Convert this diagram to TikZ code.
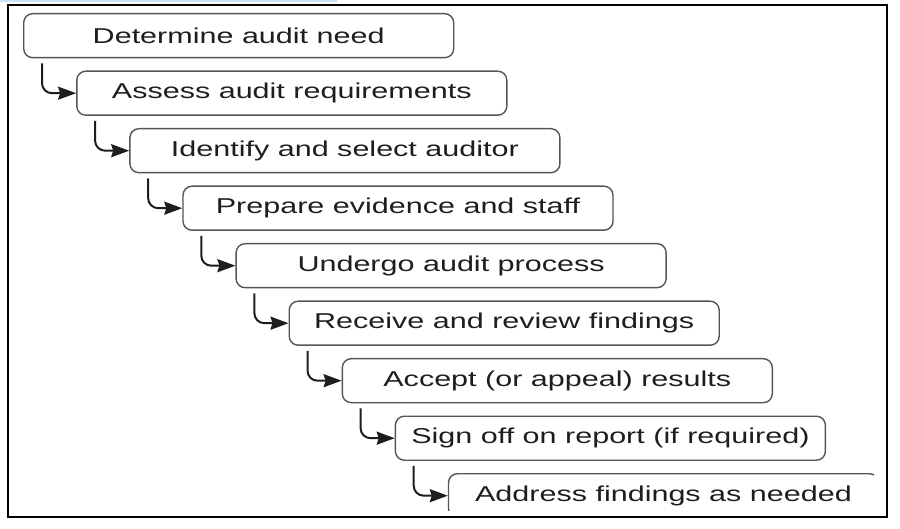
\documentclass[tikz,border=0pt]{standalone}
\usepackage{fontspec}
\setmainfont{Liberation Sans}
\usetikzlibrary{arrows.meta}
\definecolor{boxline}{HTML}{555555}
\definecolor{txt}{HTML}{1E1E1E}
\definecolor{arrcol}{HTML}{1E1E1E}
\definecolor{selblue}{HTML}{CCE2F6}
\tikzset{
  stepbox/.style={draw=boxline, line width=1.4pt, rounded corners=9pt,
    minimum width=430pt, minimum height=44pt, anchor=north west,
    inner sep=0pt, text=txt, font=\fontsize{21.5}{25}\selectfont},
  flowarrow/.style={draw=arrcol, line width=2pt, rounded corners=10pt,
    -{Stealth[length=18pt,width=13pt,inset=2pt]}},
  frame/.style={draw=black, line width=2pt}
}
\newcommand{\wtext}[1]{\scalebox{1.42}[1]{#1}}
\begin{document}
\begin{tikzpicture}[x=1pt,y=-1pt]
\useasboundingbox (0,0) rectangle (900,529);
\fill[selblue] (0,0) rectangle (337,2);
\begin{scope}
\clip (8,5) rectangle (874,510);
\node[stepbox] (b1) at (23.0,13.0)  {\wtext{Determine audit need}};
\node[stepbox] (b2) at (76.1,70.5)  {\wtext{Assess audit requirements}};
\node[stepbox] (b3) at (129.2,128.0) {\wtext{Identify and select auditor}};
\node[stepbox] (b4) at (182.3,185.5) {\wtext{Prepare evidence and staff}};
\node[stepbox] (b5) at (235.4,243.0) {\wtext{Undergo audit process}};
\node[stepbox] (b6) at (288.5,300.5) {\wtext{Receive and review findings}};
\node[stepbox] (b7) at (341.6,358.0) {\wtext{Accept (or appeal) results}};
\node[stepbox] (b8) at (394.7,415.5) {\wtext{Sign off on report (if required)}};
\node[stepbox] (b9) at (447.8,473.0) {\wtext{Address findings as needed}};
\foreach \a/\b in {b1/b2,b2/b3,b3/b4,b4/b5,b5/b6,b6/b7,b7/b8,b8/b9}{
  \draw[flowarrow] ([xshift=19pt,yshift=-5pt]\a.south west) |- (\b.west);
}
\end{scope}
\draw[frame] (8,5) rectangle (887,517);
\end{tikzpicture}
\end{document}
